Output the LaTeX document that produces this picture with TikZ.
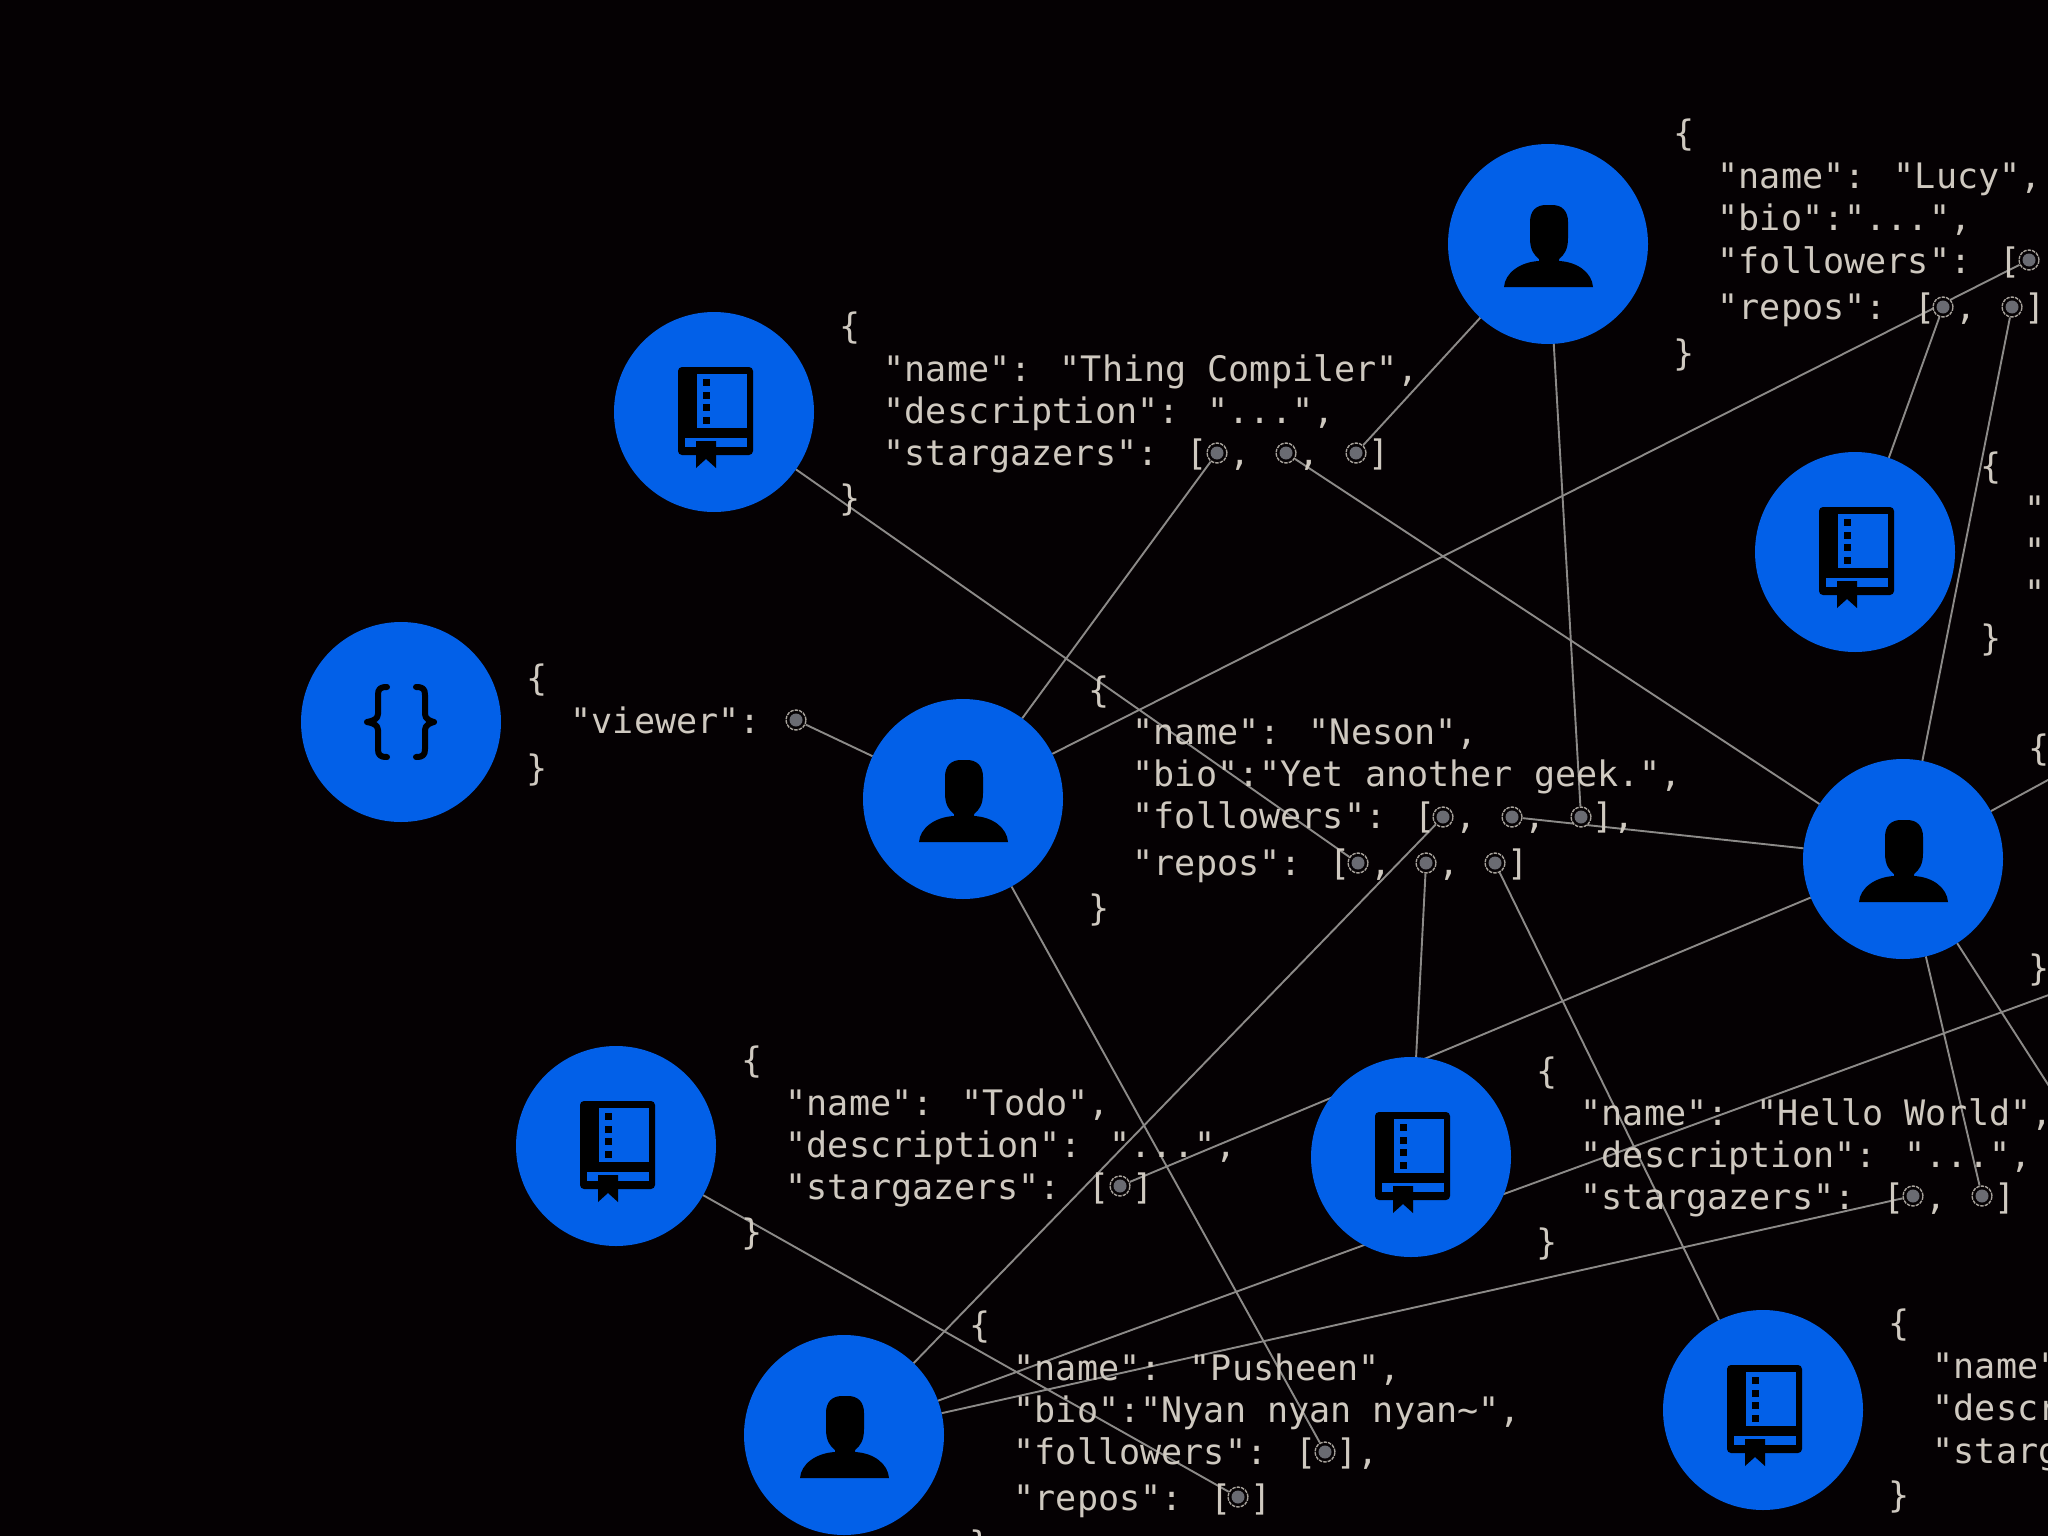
\documentclass[tikz,border=0pt]{standalone}
\usepackage{fontspec}
\newfontfamily\codefont{DejaVu Sans Mono}
\definecolor{bgcol}{HTML}{050103}
\definecolor{hubcol}{HTML}{0260E8}
\definecolor{textcol}{HTML}{CFC9C0}
\definecolor{wirecol}{HTML}{8C8A88}
\definecolor{ringcol}{HTML}{A8A39C}
\definecolor{slotcol}{HTML}{6A6B72}
\pgfdeclarelayer{wires}
\pgfsetlayers{wires,main}
\tikzset{
  hub/.style={circle,fill=hubcol,inner sep=0pt,minimum size=200pt,line width=0pt,yshift=-1pt},
  txt/.style={font=\codefont\fontsize{35.1}{40}\selectfont,text=textcol,inner sep=0pt,anchor=base west,xshift=-1.5pt,yshift=-0.8pt},
  bracetxt/.style={txt,xshift=-2pt,yshift=-0.5pt},
  mark txt/.style={font=\codefont\fontsize{35.1}{40}\selectfont,text=textcol,inner sep=0pt,anchor=base,yshift=-0.8pt},
  slot/.style={circle,inner sep=0pt,minimum size=20pt,draw=ringcol,line width=1.4pt,dash pattern=on 3.5pt off 1pt,fill=bgcol,
    path picture={\fill[slotcol] (path picture bounding box.center) circle (6.5);}},
  conn/.style={draw=wirecol,line width=1.9pt},
  bookicon/.pic={
    \fill[black,rounded corners=4pt] (-36,-45) rectangle (39,43);
    \fill[hubcol] (-17,-38) rectangle (33,16);
    \fill[hubcol] (-29,26) rectangle (33,35);
    \fill[black] (-11,-33) rectangle (-4,-26);
    \fill[black] (-11,-20) rectangle (-4,-13);
    \fill[black] (-11,-8) rectangle (-4,-1);
    \fill[black] (-11,5) rectangle (-4,12);
    \fill[black] (-18,29) -- (2,29) -- (2,56) -- (-8,47) -- (-18,56) -- cycle;
  },
  personicon/.pic={
    \fill[black] (-44,43) .. controls (-43,29) and (-28,18) .. (-9,17)
      -- (-9,15) .. controls (-14,11) and (-18,6) .. (-18,-6)
      -- (-18,-22) .. controls (-18,-33) and (-12,-39) .. (-2,-39)
      -- (4,-39) .. controls (14,-39) and (20,-33) .. (20,-22)
      -- (20,-6) .. controls (20,6) and (16,11) .. (11,15)
      -- (11,17) .. controls (30,18) and (44,29) .. (45,43) -- cycle;
  },
  bracesicon/.pic={
    \draw[black,line width=6pt,line cap=round,line join=round]
      (-14,-35) .. controls (-21,-35) and (-23,-33) .. (-23,-27) -- (-23,-8)
      .. controls (-23,-3) and (-28,-1) .. (-34,0)
      .. controls (-28,1) and (-23,3) .. (-23,8) -- (-23,27)
      .. controls (-23,33) and (-21,35) .. (-14,35);
    \draw[black,line width=6pt,line cap=round,line join=round]
      (15,-35) .. controls (22,-35) and (24,-33) .. (24,-27) -- (24,-8)
      .. controls (24,-3) and (29,-1) .. (33,0)
      .. controls (29,1) and (24,3) .. (24,8) -- (24,27)
      .. controls (24,33) and (22,35) .. (15,35);
  }
}
\begin{document}
\begin{tikzpicture}[x=1pt,y=-1pt]
\useasboundingbox (0,0) rectangle (2048,1536);
\begin{pgfonlayer}{wires}
  \fill[bgcol] (0,0) rectangle (2048,1536);
\end{pgfonlayer}

% hubs
\node[hub] (thing) at (714,411) {};
\node[hub] (viewer) at (401,721) {};
\node[hub] (neson) at (963,798) {};
\node[hub] (lucy) at (1548,243) {};
\node[hub] (rrepo) at (1855,551) {};
\node[hub] (ruser) at (1903,858) {};
\node[hub] (todo) at (616,1145) {};
\node[hub] (hello) at (1411,1156) {};
\node[hub] (pusheen) at (844,1434) {};
\node[hub] (brepo) at (1763,1409) {};
\pic at (thing) {bookicon};
\pic at (rrepo) {bookicon};
\pic at (todo) {bookicon};
\pic at (hello) {bookicon};
\pic at (brepo) {bookicon};
\pic at (neson) {personicon};
\pic at (lucy) {personicon};
\pic at (ruser) {personicon};
\pic at (pusheen) {personicon};
\pic at (viewer) {bracesicon};

% viewer
\node[bracetxt] (v0) at (530,689) {\{};
\node[txt] (v1) at (572,733) {"viewer":};
\node[bracetxt] (v2) at (530,779) {\}};
\node[slot] (vd) at (796,720) {};

% thing compiler
\node[bracetxt] (a0) at (843,337) {\{};
\node[txt] (a1) at (885,381) {"name": "Thing Compiler",};
\node[txt] (a2) at (885,423) {"description": "...",};
\node[txt] (a3) at (885,465) {"stargazers": [};
\node[bracetxt] (a4) at (843,509) {\}};
\node[slot] (ad1) at (1217,453) {};
\node[slot] (ad2) at (1286,453) {};
\node[slot] (ad3) at (1356,453) {};
\node[mark txt] (ac1) at (1240,465) {,};
\node[mark txt] (ac2) at (1309,465) {,};
\node[mark txt] (ac3) at (1379,465) {]};

% lucy
\node[bracetxt] (l0) at (1677,144) {\{};
\node[txt] (l1) at (1719,188) {"name": "Lucy",};
\node[txt] (l2) at (1719,230) {"bio":"...",};
\node[txt] (l3) at (1719,273) {"followers": [};
\node[txt] (l4) at (1719,319) {"repos": [};
\node[bracetxt] (l5) at (1677,364) {\}};
\node[slot] (lf1) at (2029,260) {};
\node[slot] (lr1) at (1943,307) {};
\node[slot] (lr2) at (2012,307) {};
\node[mark txt] (lc1) at (1966,319) {,};
\node[mark txt] (lc2) at (2035,319) {]};

% neson
\node[bracetxt] (n0) at (1092,701) {\{};
\node[txt] (n1) at (1134,744) {"name": "Neson",};
\node[txt] (n2) at (1134,786) {"bio":"Yet another geek.",};
\node[txt] (n3) at (1134,828) {"followers": [};
\node[txt] (n4) at (1134,875) {"repos": [};
\node[bracetxt] (n5) at (1092,919) {\}};
\node[slot] (nf1) at (1443,817) {};
\node[slot] (nf2) at (1512,817) {};
\node[slot] (nf3) at (1581,817) {};
\node[slot] (nr1) at (1358,863) {};
\node[slot] (nr2) at (1426,863) {};
\node[slot] (nr3) at (1495,863) {};
\node[mark txt] (nc1) at (1466,828) {,};
\node[mark txt] (nc2) at (1535,828) {,};
\node[txt] (nc3) at (1594,828) {],};
\node[mark txt] (nc4) at (1381,875) {,};
\node[mark txt] (nc5) at (1449,875) {,};
\node[mark txt] (nc6) at (1518,875) {]};

% right repo (cut by the edge)
\node[bracetxt] (q0) at (1984,477) {\{};
\node[txt] (q1) at (2026,521) {"};
\node[txt] (q2) at (2026,563) {"};
\node[txt] (q3) at (2026,605) {"};
\node[bracetxt] (q4) at (1984,649) {\}};

% right user (cut by the edge)
\node[bracetxt] (r0) at (2032,759) {\{};
\node[bracetxt] (r1) at (2032,979) {\}};

% todo
\node[bracetxt] (t0) at (745,1071) {\{};
\node[txt] (t1) at (787,1115) {"name": "Todo",};
\node[txt] (t2) at (787,1157) {"description": "...",};
\node[txt] (t3) at (787,1199) {"stargazers": [};
\node[bracetxt] (t4) at (745,1243) {\}};
\node[slot] (td) at (1120,1186) {};
\node[mark txt] (tc) at (1143,1199) {]};

% hello world
\node[bracetxt] (h0) at (1540,1082) {\{};
\node[txt] (h1) at (1582,1125) {"name": "Hello World",};
\node[txt] (h2) at (1582,1167) {"description": "...",};
\node[txt] (h3) at (1582,1209) {"stargazers": [};
\node[bracetxt] (h4) at (1540,1253) {\}};
\node[slot] (hd1) at (1913,1196) {};
\node[slot] (hd2) at (1982,1196) {};
\node[mark txt] (hc1) at (1936,1209) {,};
\node[mark txt] (hc2) at (2005,1209) {]};

% pusheen
\node[bracetxt] (p0) at (973,1336) {\{};
\node[txt] (p1) at (1015,1380) {"name": "Pusheen",};
\node[txt] (p2) at (1015,1422) {"bio":"Nyan nyan nyan\char`\~",};
\node[txt] (p3) at (1015,1464) {"followers": [};
\node[txt] (p4) at (1015,1510) {"repos": [};
\node[bracetxt] (p5) at (973,1555) {\}};
\node[slot] (pf) at (1325,1452) {};
\node[slot] (pr) at (1238,1497) {};
\node[txt] (pc1) at (1338,1464) {],};
\node[mark txt] (pc2) at (1261,1510) {]};

% bottom repo (cut by the edge)
\node[bracetxt] (b0) at (1892,1334) {\{};
\node[txt] (b1) at (1934,1378) {"name"};
\node[txt] (b2) at (1934,1420) {"descr};
\node[txt] (b3) at (1934,1463) {"starg};
\node[bracetxt] (b4) at (1892,1506) {\}};

% free ends of connectors beyond the edge
\coordinate (off1) at (2103,750);
\coordinate (off2) at (2103,1170);
\coordinate (off3) at (2150,958);

\begin{pgfonlayer}{wires}
  \draw[conn] (vd) -- (neson);
  \draw[conn] (thing) -- (nr1);
  \draw[conn] (neson) -- (ad1);
  \draw[conn] (neson) -- (lf1);
  \draw[conn] (lucy) -- (ad3);
  \draw[conn] (lucy) -- (nf3);
  \draw[conn] (ad2) -- (ruser);
  \draw[conn] (lr1) -- (rrepo);
  \draw[conn] (lr2) -- (ruser);
  \draw[conn] (nf2) -- (ruser);
  \draw[conn] (nf1) -- (pusheen);
  \draw[conn] (nr2) -- (hello);
  \draw[conn] (nr3) -- (brepo);
  \draw[conn] (neson) -- (pf);
  \draw[conn] (td) -- (ruser);
  \draw[conn] (todo) -- (pr);
  \draw[conn] (pusheen) -- (off3);
  \draw[conn] (pusheen) -- (hd1);
  \draw[conn] (hd2) -- (ruser);
  \draw[conn] (ruser) -- (off1);
  \draw[conn] (ruser) -- (off2);
\end{pgfonlayer}
\end{tikzpicture}
\end{document}
